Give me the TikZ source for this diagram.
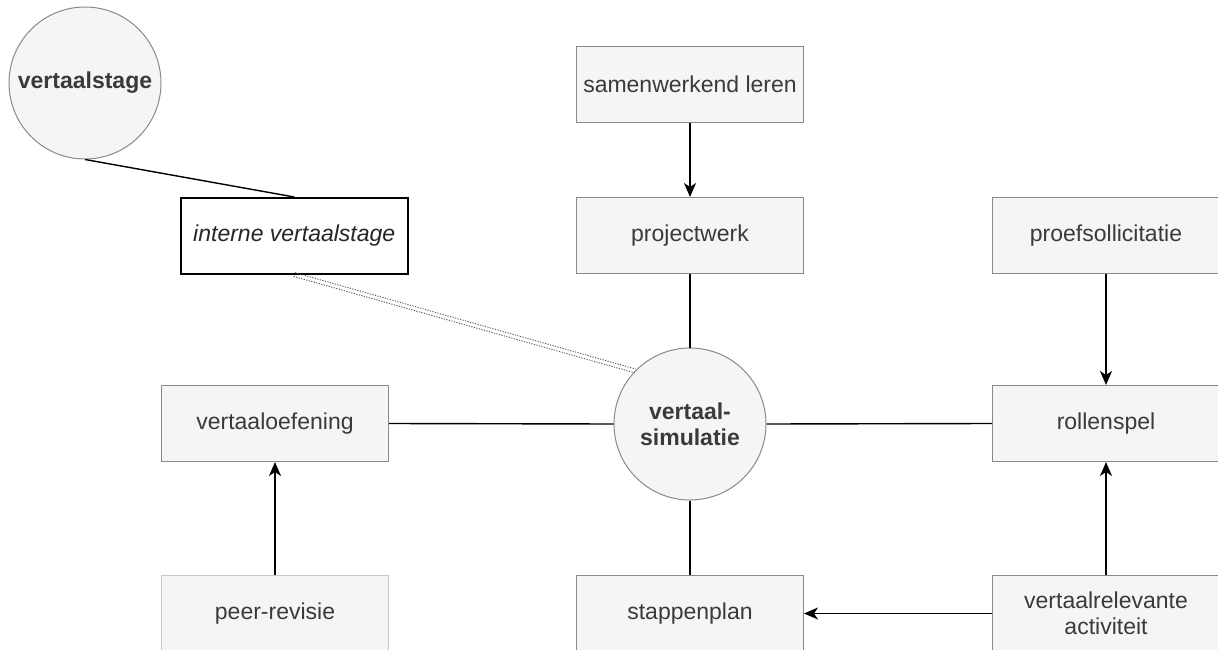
\documentclass[tikz,border=0pt]{standalone}
\usepackage{fontspec}
\setmainfont{Liberation Sans}
\usetikzlibrary{arrows.meta}
\definecolor{boxfill}{HTML}{F5F5F5}
\definecolor{boxline}{HTML}{8A8A8A}
\definecolor{lightline}{HTML}{C8C8C8}
\definecolor{txt}{HTML}{3A3A3A}
\definecolor{dotcol}{HTML}{555555}
\begin{document}
\begin{tikzpicture}[x=1pt,y=-1pt,
  box/.style={draw=boxline, fill=boxfill, line width=1pt, minimum width=227pt, minimum height=76pt,
    inner sep=0pt, text=txt, font=\fontsize{23}{26}\selectfont, align=center, anchor=north west},
  circ/.style={circle, draw=boxline, fill=boxfill, line width=1pt, minimum size=152pt, inner sep=0pt,
    text=txt, font=\fontsize{23}{26}\selectfont\bfseries, align=center},
  conn/.style={line width=1.4pt, black},
  arr/.style={conn, -{Stealth[length=14pt,width=12pt,inset=4pt]}},
  dotline/.style={dotcol, line width=0.9pt, dash pattern=on 1.2pt off 1.4pt}]
\useasboundingbox (0,0) rectangle (1218,650);
% circles
\node[circ] (stage) at (85,83) {vertaalstage};
\node[circ] (sim) at (690,424) {vertaal-\\simulatie};
% boxes
\node[box] (sam) at (576,46) {samenwerkend leren};
\node[box] (proj) at (576,197) {projectwerk};
\node[box] (proef) at (992,197) {proefsollicitatie};
\node[box] (rol) at (992,385) {rollenspel};
\node[box] (oef) at (161,385) {vertaaloefening};
\node[box, draw=lightline] (peer) at (161,575) {peer-revisie};
\node[box] (stap) at (576,575) {stappenplan};
\node[box] (rel) at (992,575) {vertaalrelevante\\activiteit};
\node[box, draw=black, fill=white, line width=1.5pt, text=black!85, font=\fontsize{23}{26}\selectfont\itshape] (interne) at (180,197) {interne vertaalstage};
% connectors
\draw[conn] (stage.south) -- (interne.north);
\draw[dotline, transform canvas={shift={(0.55pt,1.9pt)}}] (interne.south) -- (sim.136);
\draw[dotline, transform canvas={shift={(-0.55pt,-1.9pt)}}] (interne.south) -- (sim.136);
\draw[arr] (sam.south) -- (proj.north);
\draw[conn] (proj.south) -- (sim.north);
\draw[arr] (proef.south) -- (rol.north);
\draw[conn] (oef.east) -- (sim.west);
\draw[conn] (sim.east) -- (rol.west);
\draw[arr] (peer.north) -- (oef.south);
\draw[conn] (sim.south) -- (stap.north);
\draw[arr] (rel.north) -- (rol.south);
\draw[arr] (rel.west) -- (stap.east);
\end{tikzpicture}
\end{document}
